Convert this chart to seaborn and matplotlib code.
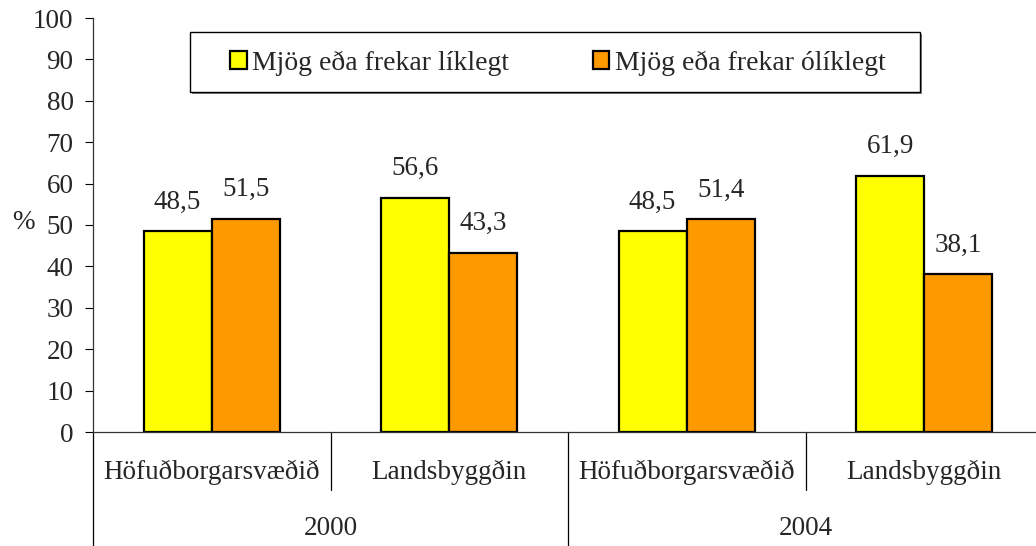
import numpy as np
import pandas as pd
import matplotlib
matplotlib.use("Agg")
import matplotlib.pyplot as plt
import matplotlib.transforms as mtransforms
from matplotlib.patches import Rectangle
import seaborn as sns

# --------------------------------------------------------------
# Data
# --------------------------------------------------------------
years = ["2000", "2004"]
regions = ["Höfuðborgarsvæðið", "Landsbyggðin"]
series = ["Mjög eða frekar líklegt", "Mjög eða frekar ólíklegt"]
likely = [48.5, 56.6, 48.5, 61.9]
unlikely = [51.5, 43.3, 51.4, 38.1]
colors = ["#FFFF00", "#FF9900"]

categories = [f"{y} {r}" for y in years for r in regions]
df = pd.DataFrame({
    "flokkur": categories * 2,
    "hlutfall": likely + unlikely,
    "svar": [series[0]] * 4 + [series[1]] * 4,
})

# --------------------------------------------------------------
# Plot settings
# --------------------------------------------------------------
sns.set_style("white")
plt.rcParams["font.family"] = ["Liberation Serif", "DejaVu Serif"]
FS = 19.5

fig = plt.figure(figsize=(10.36, 5.46), dpi=100)
ax = fig.add_axes([93 / 1036, 114 / 546, 950 / 1036, 414 / 546])

sns.barplot(data=df, x="flokkur", y="hlutfall", hue="svar", order=categories,
            hue_order=series, palette=colors, saturation=1, width=0.574,
            edgecolor="black", linewidth=1.6, ax=ax, legend=False)

for cont in ax.containers:
    vals = cont.datavalues
    ax.bar_label(cont, labels=[f"{v:.1f}".replace(".", ",") for v in vals],
                 padding=12, fontsize=FS)

ax.set_xlim(-0.5, 3.5)
ax.set_ylim(0, 100)
ax.set_yticks(np.arange(0, 101, 10))
ax.tick_params(axis="y", direction="out", length=6, width=0.8, color="black",
               pad=8, labelsize=FS, left=True)
ax.tick_params(axis="x", length=0, labelbottom=False)
ax.set_xlabel("")
ax.set_ylabel("%", rotation=0, ha="center", va="center", fontsize=FS)
ax.yaxis.set_label_coords(-0.0736, 0.507)

for s in ["top", "right"]:
    ax.spines[s].set_visible(False)
for s in ["left", "bottom"]:
    ax.spines[s].set_color("#333333")
    ax.spines[s].set_linewidth(0.9)

# two-level category axis
trans = mtransforms.blended_transform_factory(ax.transData, ax.transAxes)
for i, cat in enumerate(categories):
    ax.text(i, -0.097, cat.split(" ", 1)[1], transform=trans,
            ha="center", va="center", fontsize=FS)
for j, y in enumerate(years):
    ax.text(2 * j + 0.5, -0.232, y, transform=trans,
            ha="center", va="center", fontsize=FS)
for x in [0.5, 2.5]:
    ax.plot([x, x], [0, -0.14], transform=trans, color="black",
            linewidth=0.9, clip_on=False)
for x in [-0.5, 1.5]:
    ax.plot([x, x], [0, -0.3], transform=trans, color="black",
            linewidth=0.9, clip_on=False)

# legend box
fig.patches.append(Rectangle((192 / 1036, 1 - 94 / 546), 730 / 1036, 60 / 546,
                             transform=fig.transFigure, facecolor="#808080",
                             edgecolor="none", zorder=1))
fig.patches.append(Rectangle((190 / 1036, 1 - 92 / 546), 730 / 1036, 60 / 546,
                             transform=fig.transFigure, facecolor="white",
                             edgecolor="black", linewidth=1.0, zorder=2))
handles = [Rectangle((0, 0), 1, 1, facecolor=c, edgecolor="black", linewidth=1.6)
           for c in colors]
leg = fig.legend(handles, series, loc="center",
                 bbox_to_anchor=(558 / 1036, 1 - 63 / 546), ncol=2,
                 frameon=False, fontsize=20, handlelength=0.6,
                 handleheight=0.6, handletextpad=0.2, columnspacing=3.0)
leg.set_zorder(3)

fig.savefig("out.png", dpi=100)
